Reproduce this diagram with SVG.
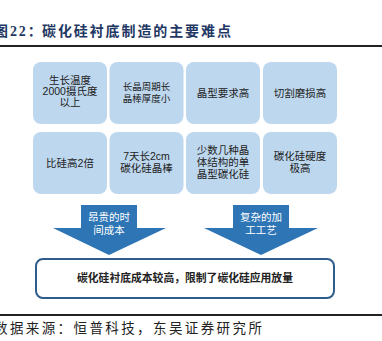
<svg xmlns="http://www.w3.org/2000/svg" width="382" height="341" viewBox="0 0 382 341">
<style>
.title{font-family:"Liberation Serif","Noto Sans CJK SC",serif;font-size:14px;font-weight:bold;fill:#1f3864;letter-spacing:1.9px}
.src{font-family:"Liberation Serif","Noto Sans CJK SC",serif;font-size:13.5px;fill:#222;letter-spacing:2.4px}
.box{fill:#bdd7ee}
.bt{font-family:"Liberation Sans","Noto Sans CJK SC",sans-serif;font-size:10.5px;fill:#222;text-anchor:middle}
.at{font-family:"Liberation Sans","Noto Sans CJK SC",sans-serif;font-size:10.5px;fill:#fff;text-anchor:middle}
.arrow{fill:#2e75b6}
.rule{stroke:#222;stroke-width:2}
</style>
<rect width="382" height="341" fill="#fff"/>
<text class="title" x="-6" y="36">图22：</text>
<text class="title" x="42" y="36">碳化硅衬底制造的主要难点</text>
<line class="rule" x1="0" y1="46" x2="382" y2="46"/>

<g id="n1"><rect class="box" x="33" y="62" width="74" height="62" rx="8"/>
<text class="bt" x="70" y="84">生长温度</text><text class="bt" x="70" y="95">2000摄氏度</text><text class="bt" x="70" y="106">以上</text></g>
<g id="n2"><rect class="box" x="109.5" y="62" width="74" height="62" rx="8"/>
<text class="bt" x="146.5" y="90" style="font-size:9.5px">长晶周期长</text><text class="bt" x="146.5" y="102" style="font-size:9.5px">晶棒厚度小</text></g>
<g id="n3"><rect class="box" x="186" y="62" width="74" height="62" rx="8"/>
<text class="bt" x="223" y="97">晶型要求高</text></g>
<g id="n4"><rect class="box" x="263" y="62" width="74" height="62" rx="8"/>
<text class="bt" x="300" y="97">切割磨损高</text></g>

<g id="n5"><rect class="box" x="33" y="132" width="74" height="62" rx="8"/>
<text class="bt" x="70" y="167">比硅高2倍</text></g>
<g id="n6"><rect class="box" x="109.5" y="132" width="74" height="62" rx="8"/>
<text class="bt" x="146.5" y="160">7天长2cm</text><text class="bt" x="146.5" y="172">碳化硅晶棒</text></g>
<g id="n7"><rect class="box" x="186" y="132" width="74" height="62" rx="8"/>
<text class="bt" x="223" y="154">少数几种晶</text><text class="bt" x="223" y="166">体结构的单</text><text class="bt" x="223" y="178">晶型碳化硅</text></g>
<g id="n8"><rect class="box" x="263" y="132" width="74" height="62" rx="8"/>
<text class="bt" x="300" y="160">碳化硅硬度</text><text class="bt" x="300" y="172">极高</text></g>

<g id="connectors">
<g id="a1"><polygon class="arrow" points="81,205 137,205 137,228 166,228 109,255 53,228 81,228"/>
<text class="at" x="109" y="221">昂贵的时</text><text class="at" x="109" y="234">间成本</text></g>
<g id="a2"><polygon class="arrow" points="233,205 289,205 289,228 318,228 261,255 204,228 233,228"/>
<text class="at" x="261" y="221">复杂的加</text><text class="at" x="261" y="234">工工艺</text></g>
</g>

<g id="n9"><rect x="36" y="259" width="298" height="39" rx="7" fill="#fff" stroke="#2f5c8a" stroke-width="2"/>
<text class="bt" x="185" y="282" style="font-size:10.8px;font-weight:bold">碳化硅衬底成本较高，限制了碳化硅应用放量</text></g>

<line class="rule" x1="0" y1="315" x2="382" y2="315"/>
<text class="src" x="-6" y="333">数据来源：恒普科技，东吴证券研究所</text>
</svg>
